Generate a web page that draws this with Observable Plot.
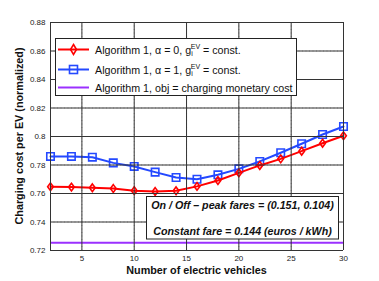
<!DOCTYPE html>
<html><head><meta charset="utf-8">
<script src="https://cdn.jsdelivr.net/npm/d3@7"></script>
<script src="https://cdn.jsdelivr.net/npm/@observablehq/plot@0.6"></script>
<style>
body{margin:0;background:#fff;}
#chart{width:379px;height:281px;}
svg{font-family:"Liberation Sans",Arial,sans-serif;}
</style>
</head><body><div id="chart"></div>
<script>
const evCounts = [2,4,6,8,10,12,14,16,18,20,22,24,26,28,30];
const alpha0 = [0.7647,0.7645,0.7640,0.7635,0.7620,0.7614,0.7619,0.7650,0.7691,0.7745,0.7797,0.7843,0.7897,0.7953,0.8005];
const alpha1 = [0.7860,0.7860,0.7855,0.7815,0.7790,0.7750,0.7712,0.7700,0.7731,0.7773,0.7825,0.7886,0.7949,0.8014,0.8070];
const monetaryCost = 0.7254;
const xTicks = [5,10,15,20,25,30];
const yTicks = [0.72,0.74,0.76,0.78,0.8,0.82,0.84,0.86,0.88];

const red = "#ff0000", blue = "#2449ff", purple = "#9b30ff";
const rows0 = evCounts.map((n,i)=>({n, v:alpha0[i]}));
const rows1 = evCounts.map((n,i)=>({n, v:alpha1[i]}));

const tallDiamond = {draw(ctx, size){ const w = Math.sqrt(size)/2.6, h = w*1.35;
  ctx.moveTo(0,-h); ctx.lineTo(w,0); ctx.lineTo(0,h); ctx.lineTo(-w,0); ctx.closePath(); }};

const plot = Plot.plot({
  width: 379, height: 281,
  marginLeft: 50, marginRight: 36, marginTop: 22, marginBottom: 31,
  style: {fontFamily: '"Liberation Sans",Arial,sans-serif', fontSize: "8px", color: "#222"},
  x: {domain: [2,30], ticks: xTicks, tickSize: 0, tickPadding: 5, label: null},
  y: {domain: [0.72,0.88], ticks: yTicks, tickSize: 0, tickPadding: 5, tickFormat: d => String(+d.toFixed(2)), label: null},
  marks: [
    Plot.gridX(xTicks, {stroke: "#999", strokeOpacity: 0.8, strokeDasharray: "1,2.5"}),
    Plot.gridY(yTicks, {stroke: "#999", strokeOpacity: 0.8, strokeDasharray: "1,2.5"}),
    Plot.ruleY([monetaryCost], {stroke: purple, strokeWidth: 2}),
    Plot.line(rows1, {x:"n", y:"v", stroke: blue, strokeWidth: 2}),
    Plot.dot(rows1, {x:"n", y:"v", symbol:"square", r: 4.2, stroke: blue, strokeWidth: 1.6, fill: "none"}),
    Plot.line(rows0, {x:"n", y:"v", stroke: red, strokeWidth: 2}),
    Plot.dot(rows0, {x:"n", y:"v", symbol: tallDiamond, r: 4.2, stroke: red, strokeWidth: 1.6, fill: "none"}),
    Plot.ruleX([2], {stroke: "#333", strokeWidth: 1}),
    Plot.ruleY([0.72], {stroke: "#333", strokeWidth: 1}),
    Plot.tickX(xTicks, {x: d=>d, y1: 0.72, y2: 0.7215, stroke:"#333"}),
    Plot.tickY(yTicks, {y: d=>d, x1: 2, x2: 2.25, stroke:"#333"})
  ]
});
document.getElementById("chart").appendChild(plot);

const svg = d3.select(plot);
const sx = plot.scale("x"), sy = plot.scale("y");
// axis labels
svg.append("text").attr("x", (sx.apply(2)+sx.apply(30))/2).attr("y", 273.5)
  .attr("text-anchor","middle").attr("font-size","10.8px").attr("font-weight","bold").attr("fill","#111")
  .text("Number of electric vehicles");
svg.append("text").attr("transform", `translate(22.5,${(sy.apply(0.72)+sy.apply(0.88))/2}) rotate(-90)`)
  .attr("text-anchor","middle").attr("font-size","10.8px").attr("font-weight","bold").attr("fill","#111")
  .text("Charging cost per EV (normalized)");

// legend
const lg = svg.append("g");
lg.append("rect").attr("x",55.5).attr("y",38.5).attr("width",241).attr("height",57)
  .attr("fill","#fff").attr("stroke","#222").attr("stroke-width",1);
const entries = [
  {c: red, t: "Algorithm 1, α = 0, g", sup: true, m: "d", y: 49.5},
  {c: blue, t: "Algorithm 1, α = 1, g", sup: true, m: "s", y: 69.5},
  {c: purple, t: "Algorithm 1, obj = charging monetary cost", sup: false, m: null, y: 87.5}
];
for (const e of entries) {
  lg.append("line").attr("x1",58).attr("x2",89).attr("y1",e.y).attr("y2",e.y).attr("stroke",e.c).attr("stroke-width",2);
  if (e.m === "s") lg.append("rect").attr("x",69.5).attr("y",e.y-4).attr("width",8).attr("height",8).attr("fill","none").attr("stroke",e.c).attr("stroke-width",1.6);
  if (e.m === "d") lg.append("path").attr("d",`M73.5,${e.y-5}L76.5,${e.y}L73.5,${e.y+5}L70.5,${e.y}Z`).attr("fill","none").attr("stroke",e.c).attr("stroke-width",1.6);
  const t = lg.append("text").attr("x",95).attr("y",e.y+4).attr("text-anchor","start").attr("font-size","10.7px").attr("fill","#111");
  t.append("tspan").text(e.t);
  if (e.sup) {
    t.append("tspan").attr("font-size","7px").attr("dy",2.5).text("i");
    t.append("tspan").attr("font-size","7px").attr("dx",-2).attr("dy",-7.5).text("EV");
    t.append("tspan").attr("dy",5).text(" = const.");
  }
}

// annotation box
const ab = svg.append("g");
ab.append("rect").attr("x",146.5).attr("y",196.5).attr("width",192).attr("height",42.5)
  .attr("fill","#fff").attr("stroke","#222").attr("stroke-width",1);
ab.append("text").attr("x",242.5).attr("y",209).attr("text-anchor","middle")
  .attr("font-size","10.7px").attr("font-weight","bold").attr("font-style","italic").attr("fill","#111")
  .text("On / Off – peak fares = (0.151, 0.104)");
ab.append("text").attr("x",242.5).attr("y",234.5).attr("text-anchor","middle")
  .attr("font-size","10.7px").attr("font-weight","bold").attr("font-style","italic").attr("fill","#111")
  .text("Constant fare = 0.144 (euros / kWh)");
</script></body></html>
